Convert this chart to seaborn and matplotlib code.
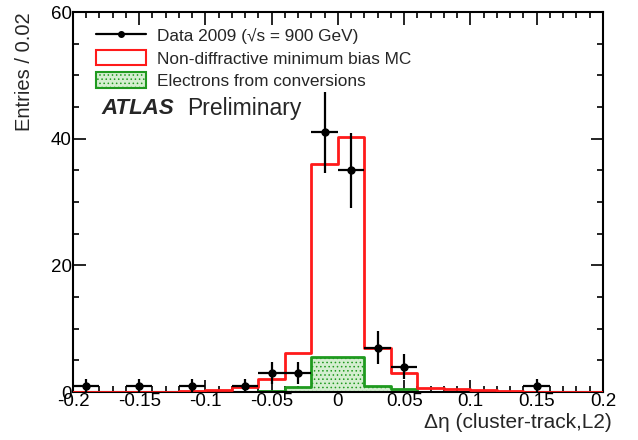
import numpy as np
import pandas as pd
import matplotlib
matplotlib.use("Agg")
import matplotlib.pyplot as plt
import seaborn as sns
from matplotlib.patches import Patch
from matplotlib.lines import Line2D
from matplotlib.ticker import MultipleLocator, FixedLocator

# ---- data ----
bin_edges = [-0.20, -0.18, -0.16, -0.14, -0.12, -0.10, -0.08, -0.06, -0.04, -0.02,
             0.00, 0.02, 0.04, 0.06, 0.08, 0.10, 0.12, 0.14, 0.16, 0.18, 0.20]
bin_centers = [-0.19, -0.17, -0.15, -0.13, -0.11, -0.09, -0.07, -0.05, -0.03, -0.01,
               0.01, 0.03, 0.05, 0.07, 0.09, 0.11, 0.13, 0.15, 0.17, 0.19]
data_counts = [1, 0, 1, 0, 1, 0, 1, 3, 3, 41, 35, 7, 4, 0, 0, 0, 0, 1, 0, 0]
mc_counts = [0.0, 0.0, 0.0, 0.08, 0.2, 0.4, 0.75, 2.1, 6.2, 36.0,
             40.3, 7.0, 3.0, 0.6, 0.45, 0.35, 0.15, 0.05, 0.0, 0.0]
conv_counts = [0.0, 0.0, 0.0, 0.0, 0.0, 0.0, 0.0, 0.2, 0.75, 5.5,
               5.5, 0.95, 0.5, 0.08, 0.0, 0.0, 0.0, 0.0, 0.0, 0.0]
x_ticks = [-0.2, -0.15, -0.1, -0.05, 0.0, 0.05, 0.1, 0.15, 0.2]
x_tick_labels = ["-0.2", "-0.15", "-0.1", "-0.05", "0", "0.05", "0.1", "0.15", "0.2"]
y_ticks = [0, 20, 40, 60]
legend_labels = ["Data 2009 (√s = 900 GeV)",
                 "Non-diffractive minimum bias MC",
                 "Electrons from conversions"]

df = pd.DataFrame({"x": bin_centers, "data": data_counts,
                   "mc": mc_counts, "conv": conv_counts})

sns.set_theme(style="ticks")
plt.rcParams["font.family"] = ["Liberation Sans", "DejaVu Sans"]
plt.rcParams["hatch.color"] = "#3aa53a"
plt.rcParams["hatch.linewidth"] = 0.6

fig = plt.figure(figsize=(6.38, 4.40), dpi=100)
ax = fig.add_axes([0.1144, 0.109, 0.8306, 0.8637])

green = "#1f9a1f"
red = "#ff1a1a"

# conversions (filled, hatched)
sns.histplot(data=df, x="x", weights="conv", bins=bin_edges, element="step",
             fill=True, facecolor="#d4eed0", edgecolor=green, linewidth=2.0,
             hatch="....", alpha=1.0, ax=ax, zorder=2)
# MC (outline)
sns.histplot(data=df, x="x", weights="mc", bins=bin_edges, element="step",
             fill=False, color=red, linewidth=2.0, ax=ax, zorder=3)

# data points with errors
dd = df[df["data"] > 0]
ax.errorbar(dd["x"], dd["data"], yerr=np.sqrt(dd["data"]), xerr=0.01,
            fmt="o", color="black", markersize=5, elinewidth=1.6,
            capsize=0, zorder=5)

ax.set_xlim(-0.2, 0.2)
ax.set_ylim(0, 60)
ax.xaxis.set_major_locator(FixedLocator(x_ticks))
ax.set_xticklabels(x_tick_labels)
ax.xaxis.set_minor_locator(MultipleLocator(0.01))
ax.yaxis.set_major_locator(FixedLocator(y_ticks))
ax.yaxis.set_minor_locator(MultipleLocator(5))
ax.tick_params(which="both", direction="in", top=True, right=True,
               labelsize=13.5, colors="black", pad=1)
ax.tick_params(which="major", length=9, width=1.2)
ax.tick_params(which="minor", length=4.5, width=1.2)
for s in ax.spines.values():
    s.set_linewidth(1.5)
    s.set_color("black")

ax.set_xlabel("Δη (cluster-track,L2)", fontsize=15)
ax.xaxis.set_label_coords(1.016, -0.055)
ax.xaxis.label.set_ha("right")
ax.xaxis.label.set_va("top")
ax.set_ylabel("Entries / 0.02", fontsize=14.5)
ax.yaxis.set_label_coords(-0.092, 1.0)
ax.yaxis.label.set_ha("right")
ax.yaxis.label.set_va("center")

handles = [
    Line2D([0], [0], color="black", marker="o", markersize=4, linewidth=1.6),
    Patch(facecolor="white", edgecolor=red, linewidth=1.5),
    Patch(facecolor="#d4eed0", edgecolor=green, linewidth=1.5, hatch="...."),
]
leg = ax.legend(handles, legend_labels, loc="upper left",
                bbox_to_anchor=(0.018, 0.995), frameon=False, fontsize=12.4,
                handlelength=2.9, handleheight=1.0, handletextpad=0.6,
                labelspacing=0.33, borderaxespad=0.4)

ax.text(0.053, 0.745, "ATLAS", transform=ax.transAxes, fontsize=16,
        fontweight="bold", fontstyle="italic", va="center", ha="left")
ax.text(0.215, 0.745, "Preliminary", transform=ax.transAxes, fontsize=16.5,
        va="center", ha="left")

fig.savefig("out.png", dpi=100)
